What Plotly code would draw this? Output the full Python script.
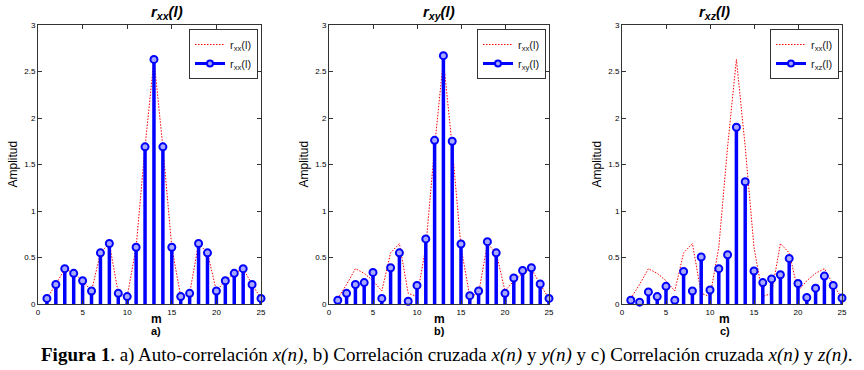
import plotly.graph_objects as go

m = list(range(1, 26))
rxx = [0.06, 0.21, 0.38, 0.33, 0.25, 0.14, 0.55, 0.65, 0.115, 0.08, 0.61, 1.69, 2.63,
       1.69, 0.61, 0.08, 0.115, 0.65, 0.55, 0.14, 0.25, 0.33, 0.38, 0.21, 0.06]
rxy = [0.04, 0.115, 0.21, 0.23, 0.34, 0.06, 0.39, 0.55, 0.03, 0.20, 0.70, 1.76, 2.67,
       1.75, 0.645, 0.09, 0.14, 0.67, 0.55, 0.115, 0.28, 0.36, 0.39, 0.215, 0.06]
rxz = [0.04, 0.02, 0.13, 0.08, 0.19, 0.04, 0.35, 0.14, 0.505, 0.15, 0.38, 0.53, 1.90,
       1.315, 0.355, 0.23, 0.27, 0.315, 0.49, 0.22, 0.07, 0.17, 0.30, 0.20, 0.065]

panels = [
    ("xx", rxx, "a)"),
    ("xy", rxy, "b)"),
    ("xz", rxz, "c)"),
]
xdomains = [(38/864, 261/864), (329/864, 549/864), (622/864, 842/864)]
ydomain = ((370-304)/370, (370-25)/370)

BLUE = "#0000ff"
RED = "#ff0000"
FONT = "Liberation Sans"

fig = go.Figure()
layout = dict(
    width=864, height=370, margin=dict(l=0, r=0, t=0, b=0, autoexpand=False),
    paper_bgcolor="white", plot_bgcolor="white",
    font=dict(family=FONT, color="black"),
    showlegend=True,
)
annotations = []

for i, (sub, vals, lab) in enumerate(panels):
    k = "" if i == 0 else str(i + 1)
    xa, ya = "x" + k, "y" + k
    leg = "legend" + k
    # red dotted reference rxx
    fig.add_trace(go.Scatter(
        x=m, y=rxx, mode="lines", xaxis=xa, yaxis=ya,
        line=dict(color=RED, width=1, dash="1.5px,1.5px"),
        name="r<sub>xx</sub>(l)", legend=leg, showlegend=True))
    # stems
    fig.add_trace(go.Scatter(
        x=m, y=vals, mode="markers", xaxis=xa, yaxis=ya,
        marker=dict(symbol="circle", size=7, color="#a8a8ff",
                    line=dict(color=BLUE, width=2)),
        error_y=dict(type="data", symmetric=False, array=[0]*len(vals),
                     arrayminus=vals, thickness=3.5, width=0, color=BLUE),
        cliponaxis=False, showlegend=False, legend=leg))
    # legend entry for stem series
    fig.add_trace(go.Scatter(
        x=[None], y=[None], mode="lines+markers", xaxis=xa, yaxis=ya,
        line=dict(color=BLUE, width=3),
        marker=dict(symbol="circle", size=6, color="#a8a8ff",
                    line=dict(color=BLUE, width=2)),
        name="r<sub>%s</sub>(l)" % sub, legend=leg, showlegend=True))

    x0, x1 = xdomains[i]
    axis_common = dict(showline=True, linecolor="#333333", linewidth=1, mirror="ticks",
                       ticks="inside", ticklen=4, tickcolor="#333333", showgrid=False,
                       zeroline=False, automargin=False,
                       tickfont=dict(size=8, family=FONT))
    layout["xaxis" + k] = dict(axis_common, domain=[x0, x1], range=[0, 25],
                               tickvals=[0, 5, 10, 15, 20, 25], anchor=ya)
    layout["yaxis" + k] = dict(axis_common, domain=list(ydomain), range=[0, 3],
                               tickvals=[0, 0.5, 1, 1.5, 2, 2.5, 3],
                               ticktext=["0", "0.5", "1", "1.5", "2", "2.5", "3"],
                               anchor=xa)
    layout[leg] = dict(x=x1 - 3/864, y=ydomain[1] - 4/370, xanchor="right", yanchor="top",
                       bordercolor="#333333", borderwidth=1, bgcolor="white",
                       font=dict(size=11, family=FONT, color="#222222"), tracegroupgap=0,
                       itemwidth=30)
    cx = (x0 + x1) / 2
    annotations.append(dict(text="<b><i>r<sub>%s</sub>(l)</i></b>" % sub, x=cx, y=1 - 12/370,
                            xref="paper", yref="paper", showarrow=False,
                            font=dict(size=15, family=FONT), yanchor="middle"))
    annotations.append(dict(text="Amplitud", x=x0 - 26/864, y=(ydomain[0] + ydomain[1]) / 2,
                            xref="paper", yref="paper", showarrow=False, textangle=-90,
                            font=dict(size=12, family=FONT), xanchor="center"))
    annotations.append(dict(text="<b>m</b>", x=cx, y=1 - 319/370, xref="paper", yref="paper",
                            showarrow=False, font=dict(size=12, family=FONT), yanchor="middle"))
    annotations.append(dict(text="<b>%s</b>" % lab, x=cx, y=1 - 331/370, xref="paper", yref="paper",
                            showarrow=False, font=dict(size=11, family=FONT), yanchor="middle"))

annotations.append(dict(
    text="<b>Figura 1</b>. a) Auto-correlación <i>x(n)</i>, b) Correlación cruzada <i>x(n)</i> y <i>y(n)</i> y c) Correlación cruzada <i>x(n)</i> y <i>z(n)</i>.",
    x=446/864, y=1 - 355/370, xref="paper", yref="paper", showarrow=False,
    font=dict(size=19, family="Liberation Serif, Times New Roman, serif"),
    xanchor="center", yanchor="middle"))
layout["annotations"] = annotations

fig.update_layout(**layout)
fig.write_html("out.html", config={"displayModeBar": False},
               post_script="document.body.style.margin='0px';document.body.style.padding='0px';")
